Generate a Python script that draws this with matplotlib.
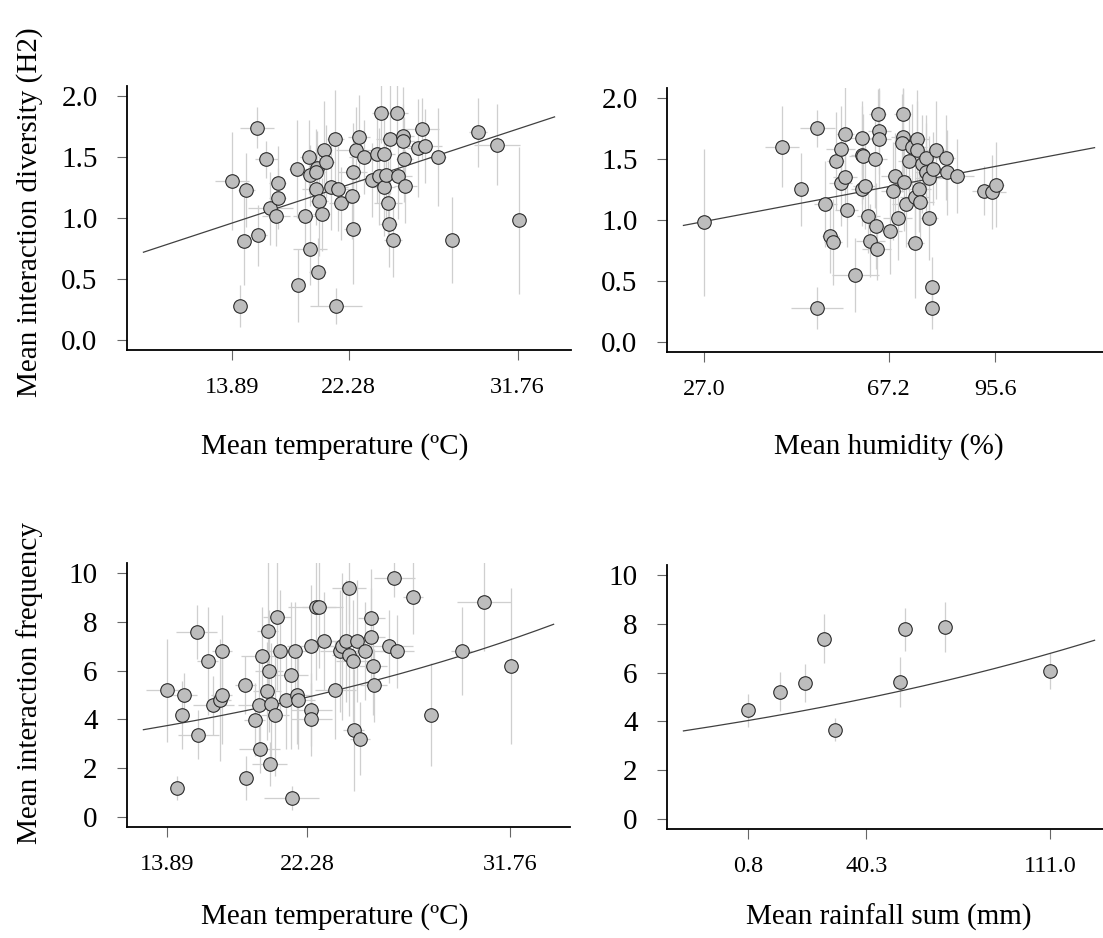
import matplotlib.pyplot as plt
import numpy as np

plt.rcParams['font.family'] = ['Liberation Serif', 'DejaVu Serif']

# x values are on the scaled axis used by the model (0 = min, 1 = max of raw values)
temp_ticks = [0.0, 0.409, 1.0]
temp_labels = ["13.89", "22.28", "31.76"]
hum_ticks = [0.0, 0.634, 1.0]
hum_labels = ["27.0", "67.2", "95.6"]
rain_ticks = [0.0, 0.390, 1.0]
rain_labels = ["0.8", "40.3", "111.0"]

# panel 1: diversity vs temperature
div_temp_x = [0.000, 0.050, 0.089, 0.043, 0.028, 0.092, 0.120, 0.135, 0.161, 0.161,
              0.155, 0.229, 0.255, 0.270, 0.274, 0.232, 0.275, 0.298, 0.296, 0.296,
              0.305, 0.301, 0.321, 0.331, 0.315, 0.347, 0.362, 0.372, 0.381, 0.364,
              0.423, 0.433, 0.445, 0.461, 0.420, 0.423, 0.492, 0.508, 0.515, 0.522,
              0.531, 0.531, 0.540, 0.546, 0.549, 0.555, 0.564, 0.578, 0.580, 0.599,
              0.600, 0.604, 0.607, 0.665, 0.652, 0.675, 0.721, 0.772, 0.861, 0.927, 1.003]
div_temp_y = [1.30, 1.23, 1.74, 0.81, 0.28, 0.86, 1.48, 1.08, 1.29, 1.16,
              1.02, 1.40, 1.02, 1.50, 0.75, 0.45, 1.35, 1.41, 1.38, 1.24,
              1.14, 0.56, 1.56, 1.46, 1.03, 1.25, 1.65, 1.24, 1.12, 0.28,
              1.38, 1.56, 1.66, 1.50, 1.18, 0.91, 1.31, 1.52, 1.34, 1.86,
              1.52, 1.25, 1.35, 1.12, 0.95, 1.65, 0.82, 1.86, 1.34, 1.67,
              1.63, 1.48, 1.26, 1.73, 1.57, 1.59, 1.50, 0.82, 1.70, 1.60, 0.98]
div_temp_xerr = [0.06, 0.03, 0.06, 0.02, 0.02, 0.03, 0.04, 0.08, 0.03, 0.03,
                 0.05, 0.03, 0.04, 0.03, 0.06, 0.02, 0.04, 0.03, 0.03, 0.05,
                 0.03, 0.03, 0.03, 0.03, 0.03, 0.06, 0.03, 0.04, 0.04, 0.09,
                 0.05, 0.07, 0.04, 0.05, 0.03, 0.03, 0.05, 0.04, 0.05, 0.03,
                 0.04, 0.04, 0.05, 0.05, 0.03, 0.05, 0.03, 0.04, 0.05, 0.04,
                 0.04, 0.03, 0.04, 0.06, 0.04, 0.06, 0.03, 0.02, 0.03, 0.08, 0.02]
div_temp_yerr = [0.40, 0.30, 0.17, 0.36, 0.17, 0.25, 0.15, 0.30, 0.30, 0.25,
                 0.25, 0.40, 0.30, 0.30, 0.30, 0.30, 0.25, 0.30, 0.35, 0.30,
                 0.45, 0.28, 0.40, 0.30, 0.30, 0.35, 0.40, 0.35, 0.30, 0.15,
                 0.40, 0.35, 0.35, 0.30, 0.35, 0.45, 0.30, 0.40, 0.40, 0.25,
                 0.40, 0.40, 0.35, 0.35, 0.35, 0.45, 0.30, 0.25, 0.35, 0.40,
                 0.30, 0.35, 0.30, 0.25, 0.40, 0.30, 0.40, 0.35, 0.28, 0.33, 0.60]

# panel 2: diversity vs humidity
div_hum_x = [0.000, 0.267, 0.332, 0.388, 0.388, 0.416, 0.433, 0.443, 0.451, 0.469,
             0.469, 0.484, 0.484, 0.490, 0.519, 0.543, 0.543, 0.547, 0.543, 0.552,
             0.564, 0.570, 0.587, 0.592, 0.593, 0.596, 0.602, 0.602, 0.639, 0.648,
             0.657, 0.665, 0.682, 0.683, 0.680, 0.685, 0.694, 0.705, 0.715, 0.723,
             0.724, 0.732, 0.730, 0.738, 0.741, 0.747, 0.761, 0.763, 0.772, 0.774,
             0.787, 0.784, 0.784, 0.796, 0.831, 0.835, 0.868, 0.961, 0.989, 1.002]
div_hum_y = [0.98, 1.60, 1.25, 1.75, 0.28, 1.13, 0.87, 0.82, 1.48, 1.58,
             1.30, 1.70, 1.35, 1.08, 0.55, 1.67, 1.53, 1.52, 1.25, 1.28,
             1.03, 0.83, 1.50, 0.95, 0.76, 1.87, 1.73, 1.66, 0.91, 1.24,
             1.36, 1.02, 1.87, 1.68, 1.63, 1.31, 1.13, 1.48, 1.60, 1.19,
             0.81, 1.66, 1.57, 1.25, 1.15, 1.46, 1.51, 1.39, 1.02, 1.34,
             1.42, 0.45, 0.28, 1.57, 1.51, 1.39, 1.36, 1.24, 1.23, 1.29]
div_hum_xerr = [0.00, 0.06, 0.02, 0.06, 0.09, 0.04, 0.03, 0.03, 0.03, 0.05,
                0.04, 0.03, 0.04, 0.04, 0.08, 0.05, 0.04, 0.05, 0.04, 0.04,
                0.04, 0.05, 0.04, 0.03, 0.05, 0.03, 0.04, 0.04, 0.04, 0.04,
                0.05, 0.05, 0.03, 0.04, 0.03, 0.05, 0.05, 0.04, 0.05, 0.05,
                0.03, 0.04, 0.04, 0.04, 0.05, 0.05, 0.05, 0.04, 0.03, 0.05,
                0.04, 0.02, 0.02, 0.04, 0.03, 0.05, 0.06, 0.04, 0.05, 0.03]
div_hum_yerr = [0.60, 0.33, 0.30, 0.15, 0.17, 0.35, 0.30, 0.35, 0.40, 0.35,
                0.35, 0.40, 0.30, 0.30, 0.30, 0.30, 0.40, 0.35, 0.30, 0.35,
                0.30, 0.30, 0.40, 0.35, 0.25, 0.20, 0.35, 0.40, 0.35, 0.40,
                0.35, 0.35, 0.20, 0.40, 0.40, 0.40, 0.35, 0.40, 0.35, 0.40,
                0.45, 0.40, 0.40, 0.35, 0.35, 0.40, 0.35, 0.40, 0.35, 0.35,
                0.30, 0.25, 0.17, 0.40, 0.35, 0.35, 0.30, 0.20, 0.30, 0.35]

# panel 3: frequency vs temperature
freq_temp_x = [0.000, 0.028, 0.048, 0.043, 0.087, 0.091, 0.118, 0.135, 0.155, 0.159,
               0.160, 0.228, 0.230, 0.255, 0.268, 0.270, 0.276, 0.293, 0.297, 0.292,
               0.302, 0.315, 0.299, 0.320, 0.329, 0.347, 0.361, 0.363, 0.372, 0.378,
               0.382, 0.420, 0.421, 0.421, 0.433, 0.442, 0.458, 0.490, 0.505, 0.509,
               0.523, 0.530, 0.530, 0.543, 0.544, 0.555, 0.562, 0.576, 0.596, 0.596,
               0.600, 0.602, 0.648, 0.670, 0.663, 0.717, 0.770, 0.859, 0.924, 1.002]
freq_temp_y = [5.19, 1.20, 4.99, 4.19, 7.58, 3.37, 6.38, 4.58, 4.81, 5.01,
               6.79, 5.41, 1.60, 3.99, 4.60, 2.80, 6.58, 7.61, 5.98, 5.16,
               4.62, 4.19, 2.19, 8.20, 6.79, 4.78, 5.81, 0.79, 6.79, 4.99,
               4.78, 6.99, 4.40, 4.00, 8.61, 8.61, 7.20, 5.19, 6.80, 6.99,
               7.20, 9.39, 6.63, 6.38, 3.58, 7.20, 3.21, 6.80, 8.17, 7.38,
               6.19, 5.40, 6.99, 6.79, 9.80, 8.99, 4.19, 6.80, 8.81, 6.19]
freq_temp_xerr = [0.06, 0.02, 0.04, 0.02, 0.06, 0.06, 0.03, 0.06, 0.03, 0.03,
                  0.03, 0.03, 0.02, 0.03, 0.06, 0.06, 0.06, 0.03, 0.04, 0.04,
                  0.05, 0.04, 0.05, 0.04, 0.04, 0.05, 0.05, 0.08, 0.04, 0.04,
                  0.05, 0.07, 0.06, 0.06, 0.08, 0.05, 0.05, 0.06, 0.06, 0.06,
                  0.05, 0.05, 0.05, 0.05, 0.03, 0.05, 0.03, 0.06, 0.04, 0.04,
                  0.04, 0.04, 0.07, 0.05, 0.06, 0.03, 0.02, 0.03, 0.08, 0.02]
freq_temp_yerr = [2.1, 0.5, 0.9, 1.4, 1.1, 1.0, 2.2, 1.2, 2.5, 2.0,
                  1.5, 1.2, 0.9, 1.5, 1.8, 1.0, 2.0, 3.0, 2.5, 2.0,
                  2.5, 2.5, 0.9, 3.0, 2.5, 2.0, 3.0, 0.5, 2.0, 2.0,
                  2.0, 2.5, 1.5, 1.5, 3.0, 2.5, 2.0, 2.0, 2.5, 3.0,
                  2.5, 1.5, 2.5, 2.5, 2.5, 2.5, 1.5, 2.0, 2.0, 2.0,
                  2.0, 1.5, 1.5, 1.5, 0.8, 1.5, 2.1, 1.8, 2.0, 3.2]

# panel 4: frequency vs rainfall
freq_rain_x = [0.000, 0.104, 0.187, 0.250, 0.288, 0.502, 0.518, 0.652, 1.000]
freq_rain_y = [4.45, 5.22, 5.56, 7.39, 3.67, 5.60, 7.77, 7.86, 6.05]
freq_rain_yerr = [0.66, 0.79, 0.77, 1.00, 0.48, 1.02, 0.87, 1.02, 0.74]

# fitted model lines: (intercept, slope, x from, x to)
fit_div_temp = (0.958, 0.770, -0.309, 1.129)      # linear
fit_div_hum = (0.988, 0.450, -0.072, 1.342)       # linear
fit_freq_temp = (1.321, 0.661, -0.069, 1.127)     # log link
fit_freq_rain = (1.396, 0.519, -0.215, 1.146)     # log link

W, H = 1103, 938
fig = plt.figure(figsize=(W / 100, H / 100), dpi=100)


def add_ax(l, t, r, b):
    return fig.add_axes([l / W, 1 - b / H, (r - l) / W, (b - t) / H])


def panel(ax, x, y, xerr, yerr, fit, log_link, ticks, labels, yticks, ylabels):
    ax.errorbar(x, y, xerr=xerr, yerr=yerr, fmt='none', ecolor='#cfcfcf',
                elinewidth=0.9, capsize=0, zorder=1)
    b0, b1, x0, x1 = fit
    xs = np.linspace(x0, x1, 200)
    ys = b0 + b1 * xs
    if log_link:
        ys = np.exp(ys)
    ax.plot(xs, ys, color='#404040', lw=0.9, zorder=2)
    ax.scatter(x, y, s=95, facecolor='#bdbdbd', edgecolor='#2a2a2a',
               linewidths=0.8, zorder=3)
    pad = (x1 - x0) * 0.04
    ax.set_xlim(x0 - pad, x1 + pad)
    ypad = (yticks[-1] - yticks[0]) * 0.04
    ax.set_ylim(yticks[0] - ypad, yticks[-1] + ypad)
    ax.set_xticks(ticks, labels)
    ax.set_yticks(yticks, ylabels)
    for s in ['top', 'right']:
        ax.spines[s].set_visible(False)
    for s in ['left', 'bottom']:
        ax.spines[s].set_linewidth(1.3)
    ax.tick_params(length=7.2, width=0.8, color='#666666', direction='out')
    ax.tick_params(axis='y', pad=14, labelsize=21)
    ax.tick_params(axis='x', pad=12, labelsize=17.5)
    ax.set_facecolor('none')


ax1 = add_ax(127, 86, 571, 350)
ax2 = add_ax(667, 88, 1111, 352)
ax3 = add_ax(127, 563, 570, 827)
ax4 = add_ax(667, 565, 1111, 829)

div_ticks = [0, 0.5, 1.0, 1.5, 2.0]
div_tlabels = ["0.0", "0.5", "1.0", "1.5", "2.0"]
freq_ticks = [0, 2, 4, 6, 8, 10]
freq_tlabels = ["0", "2", "4", "6", "8", "10"]

panel(ax1, div_temp_x, div_temp_y, div_temp_xerr, div_temp_yerr, fit_div_temp, False,
      temp_ticks, temp_labels, div_ticks, div_tlabels)
panel(ax2, div_hum_x, div_hum_y, div_hum_xerr, div_hum_yerr, fit_div_hum, False,
      hum_ticks, hum_labels, div_ticks, div_tlabels)
panel(ax3, freq_temp_x, freq_temp_y, freq_temp_xerr, freq_temp_yerr, fit_freq_temp, True,
      temp_ticks, temp_labels, freq_ticks, freq_tlabels)
panel(ax4, freq_rain_x, freq_rain_y, None, freq_rain_yerr, fit_freq_rain, True,
      rain_ticks, rain_labels, freq_ticks, freq_tlabels)

lab = dict(fontsize=21, ha='center', va='center')
fig.text(335 / W, 1 - 447 / H, "Mean temperature (ºC)", **lab)
fig.text(889 / W, 1 - 447 / H, "Mean humidity (%)", **lab)
fig.text(335 / W, 1 - 917 / H, "Mean temperature (ºC)", **lab)
fig.text(889 / W, 1 - 917 / H, "Mean rainfall sum (mm)", **lab)
fig.text(30 / W, 1 - 212 / H, "Mean interaction diversity (H2)", rotation=90, **lab)
fig.text(30 / W, 1 - 683 / H, "Mean interaction frequency", rotation=90, **lab)

fig.savefig("out.png", dpi=100)
